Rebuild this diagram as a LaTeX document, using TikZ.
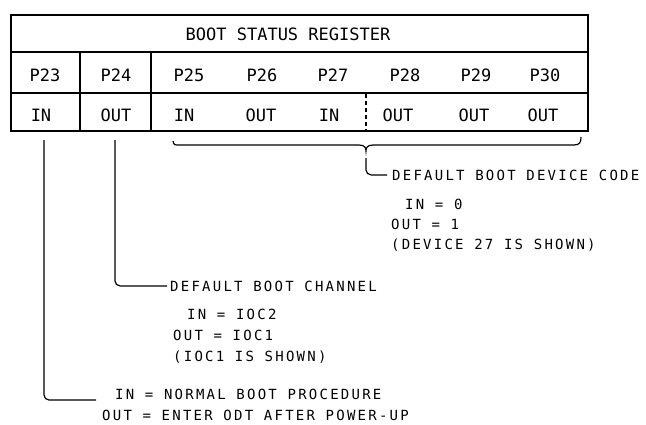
\documentclass[tikz,border=0pt]{standalone}
\usepackage{fontspec}
\newfontfamily\tabfont{DejaVu Sans Mono}
\newfontfamily\notefont[LetterSpace=16]{DejaVu Sans Mono}
\begin{document}
\begin{tikzpicture}[x=1pt,y=-1pt,
  tab/.style={font={\tabfont\fontsize{17}{20}\selectfont}, inner sep=0pt, anchor=base},
  note/.style={font={\notefont\fontsize{14}{20.5}\selectfont}, inner sep=0pt, anchor=base west},
  frame/.style={line width=2pt},
  rule/.style={line width=1.2pt},
  lead/.style={line width=1.2pt, rounded corners=5pt},
  ]
\useasboundingbox (0,0) rectangle (646,424);
% table
\draw[frame] (11,15) rectangle (588,131);
\draw[rule] (11,52) -- (588,52);
\draw[line width=2.4pt] (11,93) -- (588,93);
\draw[rule] (80,52) -- (80,131);
\draw[rule] (151,52) -- (151,131);
\draw[rule, dash pattern=on 4pt off 3pt] (366,94) -- (366,131);
% table texts
\node[tab] (title) at (288,40) {BOOT STATUS REGISTER};
\node[tab] (p23) at (45,81) {P23};
\node[tab] (p24) at (116,81) {P24};
\node[tab] (p25) at (189,81) {P25};
\node[tab] (p26) at (262,81) {P26};
\node[tab] (p27) at (333,81) {P27};
\node[tab] (p28) at (405,81) {P28};
\node[tab] (p29) at (476,81) {P29};
\node[tab] (p30) at (545,81) {P30};
\node[tab] (v23) at (41,121) {IN};
\node[tab] (v24) at (116,121) {OUT};
\node[tab] (v25) at (184,121) {IN};
\node[tab] (v26) at (261,121) {OUT};
\node[tab] (v27) at (329,121) {IN};
\node[tab] (v28) at (398,121) {OUT};
\node[tab] (v29) at (474,121) {OUT};
\node[tab] (v30) at (543,121) {OUT};
% brace under P25..P30
\draw[rule] (173,141) .. controls (174,145) .. (180,145) -- (359,145)
  .. controls (365,145) and (366,148) .. (366,151)
  .. controls (366,148) and (367,145) .. (373,145) -- (574,145)
  .. controls (580,145) and (581,142) .. (581,137);
% notes
\node[note] (dev) at (392,180) {DEFAULT BOOT DEVICE CODE};
\node[note] (dev1) at (405,209) {IN = 0};
\node[note] (dev2) at (391,229) {OUT = 1};
\node[note] (dev3) at (391,249) {(DEVICE 27 IS SHOWN)};
\node[note] (chan) at (170,291) {DEFAULT BOOT CHANNEL};
\node[note] (chan1) at (187,319) {IN = IOC2};
\node[note] (chan2) at (173,340) {OUT = IOC1};
\node[note] (chan3) at (173,361) {(IOC1 IS SHOWN)};
\node[note, anchor=west, align=left] (boot) at (102,405)
  {\hspace*{13pt}IN = NORMAL BOOT PROCEDURE\\OUT = ENTER ODT AFTER POWER-UP};
% leaders
\coordinate (s23) at (44,140);
\coordinate (s24) at (115,140);
\coordinate (sdev) at (366,158);
\draw[lead] (s23) |- ([xshift=-6pt,yshift=5pt]boot.west);
\draw[lead] (s24) |- ([xshift=-3pt]chan.west);
\draw[lead] (sdev) |- ([xshift=-5pt]dev.west);
\end{tikzpicture}
\end{document}
